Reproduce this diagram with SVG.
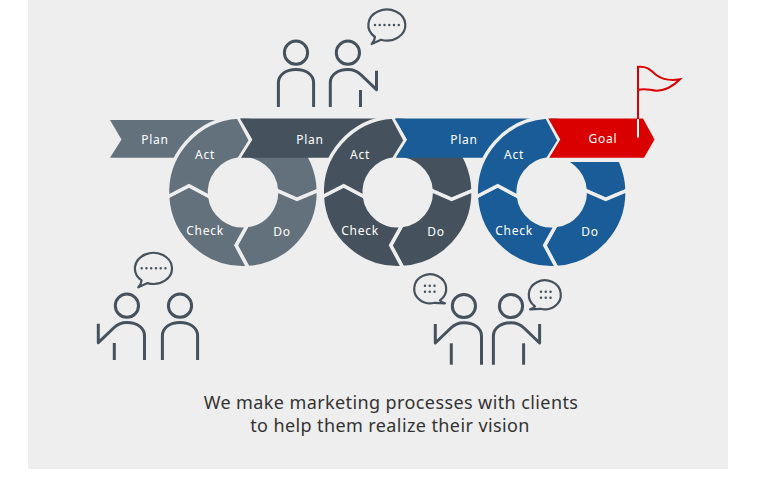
<svg xmlns="http://www.w3.org/2000/svg" xmlns:xlink="http://www.w3.org/1999/xlink" width="761" height="477" viewBox="0 0 761 477">
  <style>
    .label { font-family: "Noto Sans", "DejaVu Sans", sans-serif; font-size: 12px; fill: #ffffff; text-anchor: middle; letter-spacing: 0.75px; }
    .caption { font-family: "Noto Sans", "DejaVu Sans", sans-serif; font-size: 18px; fill: #333333; text-anchor: middle; letter-spacing: 0.4px; }
    .seg { stroke: #eeeeee; stroke-width: 3.5; stroke-linejoin: miter; }
    .grey { fill: #63717d; }
    .dark { fill: #45525d; }
    .blue { fill: #1a5c97; }
    .line { fill: none; stroke: #45525d; stroke-width: 3; stroke-linejoin: round; }
    .bubble { fill: #eeeeee; stroke: #45525d; stroke-width: 2.2; stroke-linejoin: round; }
    .dots { fill: none; stroke: #45525d; stroke-width: 2.5; stroke-linecap: round; stroke-dasharray: 0 4.75; }
  </style>
  <defs>
    <!-- ring quadrants, drawn around the ring centre -->
    <path id="seg-plan" class="seg" d="M-5 -75.3 A75.5 75.5 0 0 1 75.4 -2 L54 7 L33.4 -2 A33.5 33.5 0 0 0 -4 -33.3 L7.5 -52 Z"/>
    <path id="seg-do" class="seg" d="M75.4 -2 A75.5 75.5 0 0 1 5 75.3 L-7 53 L4 33.3 A33.5 33.5 0 0 0 33.4 -2 L54 7 Z"/>
    <path id="seg-check" class="seg" d="M5 75.3 A75.5 75.5 0 0 1 -75.4 4.5 L-54 -6.5 L-33.2 4.5 A33.5 33.5 0 0 0 4 33.3 L-7 53 Z"/>
    <path id="seg-act" class="seg" d="M-75.4 4.5 A75.5 75.5 0 0 1 -5 -75.3 L7.5 -52 L-4 -33.3 A33.5 33.5 0 0 0 -33.2 4.5 L-54 -6.5 Z"/>
    <!-- figures, origin at the head centre -->
    <g id="person">
      <circle class="line" r="11.6"/>
      <path class="line" d="M-17.6 54.3 V30 C-17.6 22 -10 16.8 0 16.8 S17.6 22 17.6 30 V54.3"/>
    </g>
    <g id="person-arm">
      <circle class="line" r="11.6"/>
      <path class="line" d="M-17.6 54.3 V30 C-17.6 22 -10 16.8 0 16.8 C6 16.8 10 19 13 22 L28.6 37 V18"/>
      <path class="line" d="M12.6 37.3 V54.3"/>
    </g>
    <g id="person-arm-long">
      <circle class="line" r="11.6"/>
      <path class="line" d="M-17.6 58.7 V30 C-17.6 22 -10 16.8 0 16.8 C6 16.8 10 19 13 22 L28.6 37 V18"/>
      <path class="line" d="M12.6 37.3 V58.7"/>
    </g>
    <!-- speech balloons, origin at the balloon centre -->
    <path id="balloon" class="bubble" d="M-11.7 12 A18.5 15.5 0 1 1 -5.7 14.8 L-15 19 Q-12.2 16 -11.7 12 Z"/>
    <path id="balloon-small" class="bubble" d="M-10 11.3 A16 14.5 0 1 1 -4.5 13.8 L-15 14.3 Q-11.5 13.5 -10 11.3 Z"/>
  </defs>

  <rect x="0" y="0" width="761" height="477" fill="#ffffff"/>
  <rect x="28" y="0" width="700" height="469" fill="#eeeeee"/>

  <g id="connectors">
    <path id="plan-band-1" class="grey" d="M110 120 H235 V157.7 H110 L121.5 139.5 Z"/>
  </g>

  <g id="cycle-1" transform="translate(243 192.3)">
    <use href="#seg-plan" class="grey"/>
    <use href="#seg-do" class="grey"/>
    <use href="#seg-check" class="grey"/>
    <use href="#seg-act" class="grey"/>
  </g>

  <g id="plan-band-2-node">
    <path class="dark" d="M240 118.5 H385 V157.7 H241 L252.5 139.5 Z"/>
  </g>

  <g id="cycle-2" transform="translate(397.7 192.3)">
    <use href="#seg-plan" class="dark"/>
    <use href="#seg-do" class="dark"/>
    <use href="#seg-check" class="dark"/>
    <use href="#seg-act" class="dark"/>
  </g>

  <g id="plan-band-3-node">
    <path class="blue" d="M394.7 118.5 H540 V157.7 H395.7 L407.2 139.5 Z"/>
  </g>

  <g id="cycle-3" transform="translate(551.7 192.3)">
    <use href="#seg-plan" class="blue"/>
    <use href="#seg-do" class="blue"/>
    <use href="#seg-check" class="blue"/>
    <use href="#seg-act" class="blue"/>
  </g>

  <g id="goal">
    <rect x="553" y="157" width="87" height="5" fill="#eeeeee"/>
    <path d="M548.3 118.5 H643 L654.5 139.5 L644 157.7 H549.3 L560.3 139.5 Z" fill="#da0000"/>
    <path d="M638 119 V137.5" fill="none" stroke="#ffffff" stroke-width="2"/>
    <path d="M638 119 V66.8 C648 65.5 652 72 657 75.5 C664 80.5 672 80.5 680 79.3 C672 87.5 664 90.5 656.7 90.7 C650 90.7 646 87.5 638 90" fill="none" stroke="#da0000" stroke-width="2"/>
    <text class="label" x="603" y="143">Goal</text>
  </g>

  <g id="labels">
    <text class="label" x="155" y="144">Plan</text>
    <text class="label" x="310" y="144">Plan</text>
    <text class="label" x="464" y="144">Plan</text>
    <text class="label" x="205" y="159">Act</text>
    <text class="label" x="360" y="159">Act</text>
    <text class="label" x="514" y="159">Act</text>
    <text class="label" x="205" y="235">Check</text>
    <text class="label" x="360" y="235">Check</text>
    <text class="label" x="514" y="235">Check</text>
    <text class="label" x="282" y="236">Do</text>
    <text class="label" x="436" y="236">Do</text>
    <text class="label" x="590" y="236">Do</text>
  </g>

  <g id="people-top">
    <use href="#person" transform="translate(296 52.7)"/>
    <use href="#person-arm" transform="translate(347.9 52.7)"/>
    <use href="#balloon" transform="translate(386.7 25)"/>
    <path class="dots" d="M375 25 H399"/>
  </g>

  <g id="people-left">
    <use href="#person-arm" transform="translate(126.9 305.7) scale(-1 1)"/>
    <use href="#person" transform="translate(180 305.7)"/>
    <use href="#balloon" transform="translate(153.3 268.3)"/>
    <path class="dots" d="M141.7 268.3 H165.7"/>
  </g>

  <g id="people-right">
    <use href="#person-arm-long" transform="translate(463.9 306) scale(-1 1)"/>
    <use href="#person-arm-long" transform="translate(511 306)"/>
    <use href="#balloon-small" transform="translate(430 289) scale(-1 1)"/>
    <path class="dots" d="M425 285.7 H435 M425 291.7 H435"/>
    <use href="#balloon-small" transform="translate(545 295)"/>
    <path class="dots" d="M541 291.7 H551 M541 297.7 H551"/>
  </g>

  <g id="caption">
    <text class="caption" x="391" y="409">We make marketing processes with clients</text>
    <text class="caption" x="390" y="432">to help them realize their vision</text>
  </g>
</svg>
